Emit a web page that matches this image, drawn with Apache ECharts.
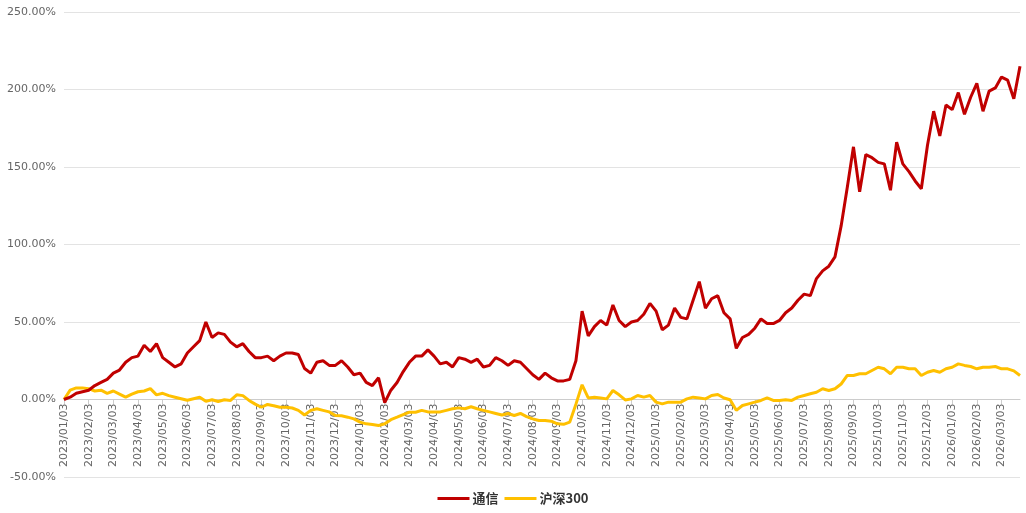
<!DOCTYPE html>
<html>
<head>
<meta charset="utf-8">
<script src="https://cdn.jsdelivr.net/npm/echarts@6/dist/echarts.min.js"></script>
<style>
  html, body { margin: 0; padding: 0; background: #ffffff; }
  #chart { width: 1026px; height: 513px; }
</style>
</head>
<body>
<div id="chart"></div>
<script>
// Month labels shown on the x axis
const monthLabels = [
  "2023/01/03","2023/02/03","2023/03/03","2023/04/03","2023/05/03","2023/06/03",
  "2023/07/03","2023/08/03","2023/09/03","2023/10/03","2023/11/03","2023/12/03",
  "2024/01/03","2024/02/03","2024/03/03","2024/04/03","2024/05/03","2024/06/03",
  "2024/07/03","2024/08/03","2024/09/03","2024/10/03","2024/11/03","2024/12/03",
  "2025/01/03","2025/02/03","2025/03/03","2025/04/03","2025/05/03","2025/06/03",
  "2025/07/03","2025/08/03","2025/09/03","2025/10/03","2025/11/03","2025/12/03",
  "2026/01/03","2026/02/03","2026/03/03"
];
// Samples per month (weekly-ish) along the category axis
const samplesPerMonth = 4;

// 通信 cumulative return (%), 4 samples per month
const telecom = [
  0, 1.5, 4, 5,
  6, 9, 11, 13,
  17, 19, 24, 27,
  28, 35, 31, 36,
  27, 24, 21, 23,
  30, 34, 38, 50,
  40, 43, 42, 37,
  34, 36, 31, 27,
  27, 28, 25, 28,
  30, 30, 29, 20,
  17, 24, 25, 22,
  22, 25, 21, 16,
  17, 11, 9, 14,
  -2, 6, 11, 18,
  24, 28, 28, 32,
  28, 23, 24, 21,
  27, 26, 24, 26,
  21, 22, 27, 25,
  22, 25, 24, 20,
  16, 13, 17, 14,
  12, 12, 13, 25,
  57, 41, 47, 51,
  48, 61, 51, 47,
  50, 51, 55, 62,
  57, 45, 48, 59,
  53, 52, 64, 76,
  59, 65, 67, 56,
  52, 33, 40, 42,
  46, 52, 49, 49,
  51, 56, 59, 64,
  68, 67, 78, 83,
  86, 92, 112, 137,
  163, 134, 158, 156,
  153, 152, 135, 166,
  152, 147, 141, 136,
  164, 186, 170, 190,
  187, 198, 184, 195,
  204, 186, 199, 201,
  208, 206, 194, 215
];

// 沪深300 cumulative return (%), 4 samples per month
const csi300 = [
  0, 6, 7.5, 7.5,
  7, 5.5, 6, 4,
  5.5, 3.5, 1.5, 3.5,
  5, 5.5, 7, 3,
  4, 2.5, 1.5, 0.5,
  -0.5, 0.5, 1.5, -1.2,
  -0.2, -1.3, -0.2, -0.6,
  3, 2.5, -0.6, -3,
  -5, -3.2, -4, -5,
  -5, -5.5, -7, -10,
  -7, -6, -7, -8,
  -10.3, -10.5, -11.4, -12.5,
  -14.6, -15.7, -16.1, -16.8,
  -15.7, -13, -11.4, -9.7,
  -8.2, -8.2, -7, -8,
  -8, -8, -7, -6,
  -5.4, -6, -4.7, -6,
  -7, -8, -9, -10,
  -9, -10.3, -9, -11,
  -12.5, -13.5, -13.5, -14,
  -15.7, -16, -14.6, -3,
  9.5, 1, 1.5, 1,
  0.4, 5.8, 3, -0.3,
  0.4, 2.6, 1.5, 2.6,
  -1.7, -2.8, -1.7, -1.7,
  -1.7, 0.4, 1.5, 1,
  0.4, 2.6, 3.2, 1,
  -0.2, -7, -3.9, -2.8,
  -1.7, -0.6, 1, -0.6,
  -0.6, -0.2, -0.6, 1.5,
  2.6, 3.7, 4.7, 6.9,
  5.8, 6.9, 10, 15.5,
  15.5, 16.6, 16.6, 18.7,
  20.8, 19.8, 16.6, 20.8,
  20.8, 19.8, 19.8, 15.5,
  17.6, 18.7, 17.6, 19.8,
  20.8, 23, 22, 21.3,
  19.8, 20.8, 20.8, 21.3,
  19.8, 19.8, 18.5, 15.5
];

const yTicks = { min: -50, max: 250, interval: 50 };
const seriesNames = ["通信", "沪深300"];

// Build category list: month label followed by intermediate samples
const categories = [];
monthLabels.forEach(function (m) {
  categories.push(m);
  for (let k = 1; k < samplesPerMonth; k++) categories.push(m + "#" + k);
});

const gridTop = 12, gridBottom = 36, chartH = 513;
const plotH = chartH - gridTop - gridBottom;
// distance (px) from grid bottom (min value) up to the zero line
const zeroOffset = plotH * (0 - yTicks.min) / (yTicks.max - yTicks.min);

const chart = echarts.init(document.getElementById('chart'));
const showIdx = function (idx) { return idx % samplesPerMonth === 0; };

chart.setOption({
  animation: false,
  backgroundColor: '#ffffff',
  grid: { left: 64, right: 6, top: gridTop, bottom: gridBottom, containLabel: false, outerBoundsMode: 'none' },
  legend: {
    bottom: 3,
    left: 'center',
    itemWidth: 32,
    itemHeight: 3,
    itemGap: 6,
    icon: 'path://M0,0 L32,0 L32,3 L0,3 Z',
    textStyle: { color: '#333', fontSize: 13, fontWeight: 'bold', fontFamily: 'Noto Sans CJK SC', padding: [0, 0, 0, -2] },
    data: seriesNames
  },
  xAxis: {
    type: 'category',
    boundaryGap: false,
    data: categories,
    offset: -zeroOffset,
    axisLine: { onZero: false, lineStyle: { color: '#cccccc', width: 1 } },
    axisTick: { show: true, interval: showIdx, length: 5, lineStyle: { color: '#cccccc' } },
    axisLabel: {
      interval: showIdx,
      rotate: 90,
      color: '#666',
      fontSize: 11,
      fontFamily: 'DejaVu Sans',
      margin: 4,
      formatter: function (v) { return v.indexOf('#') >= 0 ? '' : v; }
    },
    splitLine: { show: false }
  },
  yAxis: {
    type: 'value',
    min: yTicks.min,
    max: yTicks.max,
    interval: yTicks.interval,
    axisLine: { show: false },
    axisTick: { show: false },
    axisLabel: {
      color: '#666',
      fontSize: 11,
      fontFamily: 'DejaVu Sans',
      margin: 8,
      formatter: function (v) { return v.toFixed(2) + '%'; }
    },
    splitLine: { lineStyle: { color: '#e3e3e3', width: 1 } }
  },
  series: [
    {
      name: seriesNames[0],
      type: 'line',
      data: telecom,
      showSymbol: false,
      symbol: 'none',
      lineStyle: { color: '#C00000', width: 3 },
      itemStyle: { color: '#C00000' },
      z: 3
    },
    {
      name: seriesNames[1],
      type: 'line',
      data: csi300,
      showSymbol: false,
      symbol: 'none',
      lineStyle: { color: '#FFC000', width: 3 },
      itemStyle: { color: '#FFC000' },
      z: 2
    }
  ]
});
</script>
</body>
</html>
